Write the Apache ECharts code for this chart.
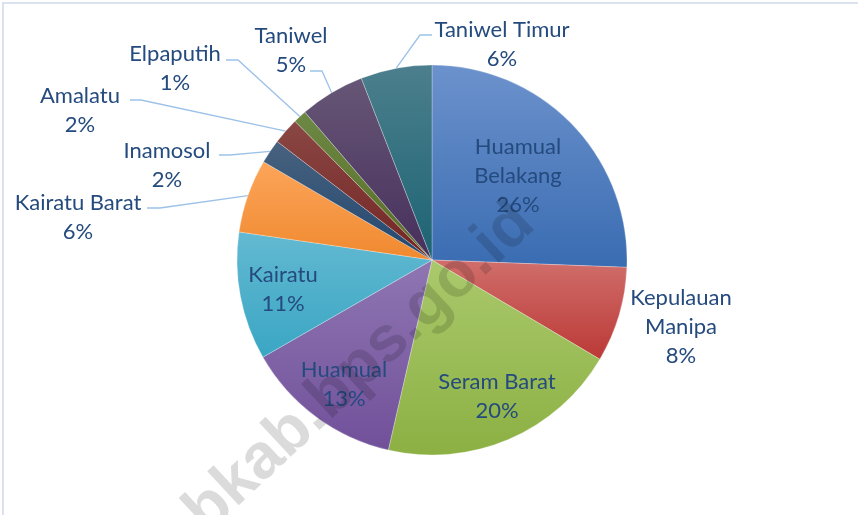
<!DOCTYPE html>
<html>
<head>
<meta charset="utf-8">
<script src="https://cdn.jsdelivr.net/npm/echarts@6/dist/echarts.min.js"></script>
<style>
  html, body { margin: 0; padding: 0; background: #ffffff; }
  #chart { width: 858px; height: 515px; }
</style>
</head>
<body>
<div id="chart"></div>
<script>
// ---- data ----
var categories = ['Huamual Belakang', 'Kepulauan Manipa', 'Seram Barat', 'Huamual', 'Kairatu',
                  'Kairatu Barat', 'Inamosol', 'Amalatu', 'Elpaputih', 'Taniwel', 'Taniwel Timur'];
var shares = [25.6, 7.9, 20.1, 13.1, 10.6, 6.1, 2.0, 2.2, 1.1, 5.4, 5.9];

// ---- styles ----
var colorTop = ['#6c92cc', '#d06e6b', '#aac96c', '#8f76b2', '#63b9d1', '#fca55a',
                '#48627f', '#8a4744', '#6d8845', '#675676', '#4c7f8d'];
var colorBottom = ['#3a6cb2', '#bb3936', '#8cb043', '#71509a', '#3aa6c4', '#f0892f',
                   '#22476f', '#732523', '#566c25', '#462f5c', '#1c6373'];
var insideLabel = [true, false, true, true, true, false, false, false, false, false, false];
var wrapLabel = [true, true, false, false, false, false, false, false, false, false, false];
// label block centres and leader-line attachment (styling / layout only)
var labelPos = [[518, 176], [681, 327], [497, 396], [344, 384], [283, 289],
                [78, 217], [167, 165], [80, 110], [175, 68], [291, 50], [502, 44]];
var leaderEnd = [null, null, null, null, null,
                 [[160, 208], [147, 208]], [[230, 155], [219, 155]], [[141, 100], [130, 100]],
                 [[238, 60], [226, 60]], [[322, 71], [310, 71]], [[420, 35], [432, 35]]];

var CX = 432, CY = 260, R = 195;
var total = shares.reduce(function (a, b) { return a + b; }, 0);

function edgePoint(i) {
  var before = 0;
  for (var k = 0; k < i; k++) before += shares[k];
  var mid = (before + shares[i] / 2) / total * Math.PI * 2;
  return [CX + R * Math.sin(mid), CY - R * Math.cos(mid)];
}

var data = categories.map(function (name, i) {
  return {
    name: name,
    value: shares[i],
    itemStyle: {
      color: new echarts.graphic.LinearGradient(0, 0, 0, 1, [
        { offset: 0, color: colorTop[i] },
        { offset: 1, color: colorBottom[i] }
      ])
    },
    label: { position: insideLabel[i] ? 'inside' : 'outside' },
    labelLine: { show: !!leaderEnd[i] }
  };
});

var chart = echarts.init(document.getElementById('chart'), null, { renderer: 'canvas' });
chart.setOption({
  animation: false,
  backgroundColor: '#ffffff',
  graphic: [
    {
      type: 'rect', z: 0, silent: true,
      shape: { x: 3, y: 3, width: 900, height: 600 },
      style: { fill: 'none', stroke: '#d9e2ee', lineWidth: 2 }
    },
    {
      type: 'text', z: 100, silent: true,
      x: 360, y: 368, rotation: 43 * Math.PI / 180,
      style: {
        text: 'bkab.bps.go.id',
        font: 'bold 64px "Liberation Sans", Arial, sans-serif',
        fill: 'rgba(0,0,0,0.14)',
        align: 'center', verticalAlign: 'middle'
      }
    }
  ],
  series: [{
    type: 'pie',
    center: [CX, CY],
    radius: [0, R],
    startAngle: 90,
    clockwise: true,
    percentPrecision: 0,
    avoidLabelOverlap: false,
    data: data,
    itemStyle: { borderColor: 'rgba(255,255,255,0.45)', borderWidth: 0.6 },
    label: {
      show: true,
      fontFamily: 'Lato',
      fontSize: 22,
      lineHeight: 29,
      color: '#244a7e',
      align: 'center',
      formatter: function (p) {
        var n = wrapLabel[p.dataIndex] ? p.name.replace(' ', '\n') : p.name;
        return n + '\n' + p.percent + '%';
      }
    },
    labelLine: { lineStyle: { color: '#9cc2e8', width: 1.3 }, smooth: false, length: 10, length2: 10 },
    labelLayout: function (p) {
      var i = p.dataIndex;
      var res = { x: labelPos[i][0], y: labelPos[i][1], align: 'center', verticalAlign: 'middle' };
      if (leaderEnd[i]) {
        res.labelLinePoints = [edgePoint(i), leaderEnd[i][0], leaderEnd[i][1]];
      }
      return res;
    }
  }]
});
</script>
</body>
</html>
